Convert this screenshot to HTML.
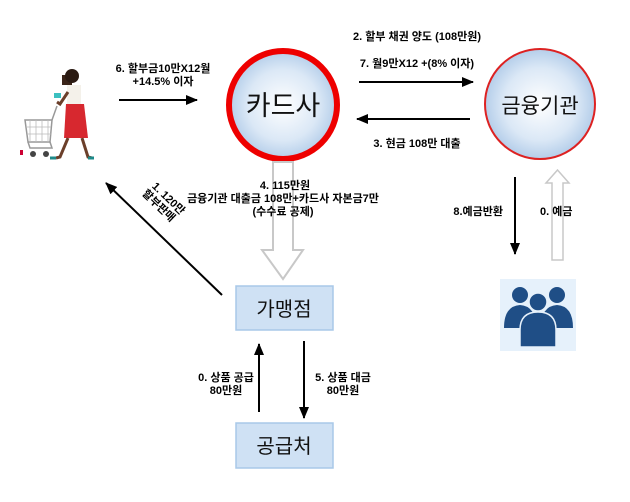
<!DOCTYPE html>
<html><head><meta charset="utf-8"><style>
body{margin:0;background:#fff;}
svg text{font-family:"Liberation Sans","Noto Sans CJK KR",sans-serif;}
.b{font-size:11px;font-weight:bold;fill:#000;}
</style></head><body>
<svg width="630" height="497" viewBox="0 0 630 497" xmlns="http://www.w3.org/2000/svg">
<defs>
<radialGradient id="g" cx="50%" cy="50%" r="55%">
<stop offset="0" stop-color="#ffffff"/><stop offset="0.6" stop-color="#dbe8f6"/><stop offset="1" stop-color="#a9c6e6"/>
</radialGradient>
<marker id="a2" markerWidth="12" markerHeight="10" refX="11" refY="5" orient="auto" markerUnits="userSpaceOnUse"><path d="M0,0 L12,5 L0,10 z" fill="#000"/></marker>
</defs>
<rect width="630" height="497" fill="#fff"/>
<!-- person -->
<g>
<rect x="62" y="75" width="10" height="10" fill="#3a2418"/>
<circle cx="72" cy="76" r="7" fill="#2a1a12"/>
<rect x="67" y="85" width="14" height="20" fill="#f4f1ea"/>
<path d="M66,104 L84,104 L88,138 L64,138 z" fill="#d7282f"/>
<path d="M68,138 L60,157 L56,158 M82,138 L88,157 L92,158" stroke="#6b3f2a" stroke-width="3" fill="none"/>
<path d="M56,158 h-6 M88,158 h6" stroke="#1d8a8a" stroke-width="3"/>
<path d="M68,92 L60,104 L57,102" stroke="#6b3f2a" stroke-width="3" fill="none"/>
<rect x="54" y="93" width="7" height="5" fill="#3cc0c0"/>
<path d="M25,120 L52,120 L50,142 L28,142 z" fill="none" stroke="#999" stroke-width="1.5"/>
<path d="M30,120 v22 M36,120 v22 M42,120 v22 M48,120 v22 M26,127 h25 M27,134 h24" stroke="#bbb" stroke-width="0.8"/>
<path d="M52,120 L57,106 M28,142 L30,148 L52,148 L50,142" stroke="#999" stroke-width="1.5" fill="none"/>
<circle cx="33" cy="154" r="3" fill="#444"/><circle cx="46" cy="154" r="3" fill="#444"/>
<rect x="20" y="150" width="3" height="5" fill="#c03"/>
</g>
<!-- circles -->
<circle cx="283" cy="105" r="54" fill="url(#g)" stroke="#e00" stroke-width="6"/>
<text x="283" y="115" font-size="27" text-anchor="middle" fill="#111">카드사</text>
<circle cx="540" cy="104" r="55" fill="url(#g)" stroke="#d22" stroke-width="2"/>
<text x="540" y="113" font-size="21" text-anchor="middle" fill="#111">금융기관</text>
<!-- top arrows -->
<text class="b" x="163" y="72" text-anchor="middle">6. 할부금10만X12월</text>
<text class="b" x="163" y="85" text-anchor="middle">+14.5% 이자</text>
<line x1="119" y1="100" x2="197" y2="100" stroke="#000" stroke-width="2" marker-end="url(#a2)"/>
<text class="b" x="417" y="40" text-anchor="middle">2. 할부 채권 양도 (108만원)</text>
<text class="b" x="417" y="67" text-anchor="middle">7. 월9만X12 +(8% 이자)</text>
<line x1="359" y1="82" x2="473" y2="82" stroke="#000" stroke-width="2" marker-end="url(#a2)"/>
<line x1="470" y1="119" x2="357" y2="119" stroke="#000" stroke-width="2" marker-end="url(#a2)"/>
<text class="b" x="417" y="147" text-anchor="middle">3. 현금 108만 대출</text>
<!-- hollow down arrow -->
<path d="M273,162 L293,162 L293,250 L303,250 L283,279 L262,250 L273,250 z" fill="#fff" stroke="#c8c8c8" stroke-width="2"/>
<text class="b" x="285" y="189" text-anchor="middle">4. 115만원</text>
<text class="b" x="283" y="202" text-anchor="middle">금융기관 대출금 108만+카드사 자본금7만</text>
<text class="b" x="283" y="215" text-anchor="middle">(수수료 공제)</text>
<!-- diagonal -->
<line x1="222" y1="295" x2="106" y2="183" stroke="#000" stroke-width="2" marker-end="url(#a2)"/>
<g transform="translate(166,201) rotate(44)">
<text class="b" x="0" y="0" text-anchor="middle">1. 120만</text>
<text class="b" x="-2" y="12" text-anchor="middle" font-weight="normal">할부판매</text>
</g>
<!-- boxes -->
<rect x="236" y="286" width="97" height="44" fill="#cfe1f4" stroke="#a9c8e8" stroke-width="1.5"/>
<text x="284" y="316" font-size="20" text-anchor="middle" fill="#111">가맹점</text>
<rect x="236" y="423" width="97" height="45" fill="#cfe1f4" stroke="#a9c8e8" stroke-width="1.5"/>
<text x="284" y="453" font-size="20" text-anchor="middle" fill="#111">공급처</text>
<line x1="259" y1="412" x2="259" y2="344" stroke="#000" stroke-width="2" marker-end="url(#a2)"/>
<line x1="304" y1="341" x2="304" y2="418" stroke="#000" stroke-width="2" marker-end="url(#a2)"/>
<text class="b" x="226" y="381" text-anchor="middle">0. 상품 공급</text>
<text class="b" x="226" y="394" text-anchor="middle">80만원</text>
<text class="b" x="343" y="381" text-anchor="middle">5. 상품 대금</text>
<text class="b" x="343" y="394" text-anchor="middle">80만원</text>
<!-- right -->
<line x1="515" y1="177" x2="515" y2="254" stroke="#000" stroke-width="2" marker-end="url(#a2)"/>
<text class="b" x="503" y="215" text-anchor="end">8.예금반환</text>
<path d="M552,260 L563,260 L563,183 L569,183 L557.5,170 L546,183 L552,183 z" fill="#fff" stroke="#c8c8c8" stroke-width="1.5"/>
<text class="b" x="540" y="215">0. 예금</text>
<rect x="500" y="279" width="76" height="72" fill="#e6f1fb"/>
<g fill="#1f4e86">
<circle cx="520" cy="295" r="8"/><path d="M504,328 Q504,306 520,305 Q536,306 536,328 z"/>
<circle cx="557" cy="295" r="8"/><path d="M541,328 Q541,306 557,305 Q573,306 573,328 z"/>
</g>
<g fill="#1f4e86" stroke="#e6f1fb" stroke-width="1.5">
<circle cx="538" cy="302" r="9"/><path d="M520,347 L520,330 Q520,312 538,312 Q556,312 556,330 L556,347 z"/>
</g>
</svg>
</body></html>
